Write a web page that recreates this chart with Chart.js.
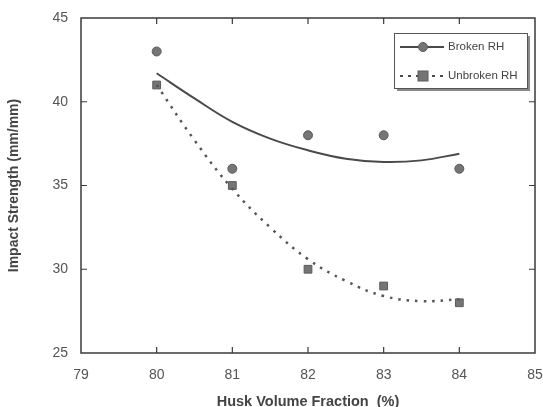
<!DOCTYPE html>
<html>
<head>
<meta charset="utf-8">
<script src="https://cdn.jsdelivr.net/npm/chart.js@4"></script>
<style>
  html, body { margin: 0; padding: 0; background: #fff; }
  #wrap { width: 543px; height: 407px; }
</style>
</head>
<body>
<div id="wrap"><canvas id="myChart" width="543" height="407"></canvas></div>
<script>
// measured points
const husk = [80, 81, 82, 83, 84];
const broken = [43, 36, 38, 38, 36];
const unbroken = [41, 35, 30, 29, 28];

// trend curves every half step
const fitX = [80, 80.5, 81, 81.5, 82, 82.5, 83, 83.5, 84];
const brokenFit = [41.7, 40.2, 38.8, 37.8, 37.1, 36.6, 36.4, 36.5, 36.9];
const unbrokenFit = [41, 37.7, 34.8, 32.5, 30.6, 29.3, 28.4, 28.1, 28.2];

const xTicks = [79, 80, 81, 82, 83, 84, 85];
const yTicks = [25, 30, 35, 40, 45];

const ink = "#3a3a3a";
const markFill = "#757575";
const markEdge = "#5a5a5a";
const font = "'Liberation Sans', Arial, sans-serif";

const toPoints = (xs, ys) => xs.map((x, i) => ({ x: x, y: ys[i] }));

// frame with inward ticks on all four sides
const framePlugin = {
  id: "frame",
  afterDraw(chart) {
    const { ctx, chartArea: a, scales } = chart;
    ctx.save();
    ctx.strokeStyle = ink;
    ctx.lineWidth = 1.5;
    ctx.strokeRect(a.left, a.top, a.right - a.left, a.bottom - a.top);
    ctx.lineWidth = 1.2;
    const len = 6;
    xTicks.slice(1, -1).forEach((v) => {
      const px = scales.x.getPixelForValue(v);
      ctx.beginPath();
      ctx.moveTo(px, a.bottom);
      ctx.lineTo(px, a.bottom - len);
      ctx.moveTo(px, a.top);
      ctx.lineTo(px, a.top + len);
      ctx.stroke();
    });
    yTicks.slice(1, -1).forEach((v) => {
      const py = scales.y.getPixelForValue(v);
      ctx.beginPath();
      ctx.moveTo(a.left, py);
      ctx.lineTo(a.left + len, py);
      ctx.moveTo(a.right, py);
      ctx.lineTo(a.right - len, py);
      ctx.stroke();
    });
    ctx.restore();
  },
};

// boxed legend with a drop shadow, line + marker samples
const legendPlugin = {
  id: "boxLegend",
  afterDraw(chart) {
    const { ctx, chartArea: a } = chart;
    const w = 133, h = 55;
    const bx = a.right - 8 - w, by = a.top + 15;
    ctx.save();
    ctx.fillStyle = "#8a8a8a";
    ctx.fillRect(bx + 3, by + 3, w, h);
    ctx.fillStyle = "#fff";
    ctx.fillRect(bx, by, w, h);
    ctx.strokeStyle = "#555";
    ctx.lineWidth = 1;
    ctx.strokeRect(bx + 0.5, by + 0.5, w, h);

    const rows = [
      { label: "Broken RH", y: by + 14, dash: [], shape: "circle" },
      { label: "Unbroken RH", y: by + 43, dash: [3, 5], shape: "square" },
    ];
    rows.forEach((r) => {
      ctx.strokeStyle = "#4a4a4a";
      ctx.lineWidth = 2;
      ctx.setLineDash(r.dash);
      ctx.beginPath();
      ctx.moveTo(bx + 6, r.y);
      ctx.lineTo(bx + 50, r.y);
      ctx.stroke();
      ctx.setLineDash([]);
      ctx.fillStyle = markFill;
      ctx.strokeStyle = markEdge;
      ctx.lineWidth = 1;
      if (r.shape === "circle") {
        ctx.beginPath();
        ctx.arc(bx + 29, r.y, 4.5, 0, Math.PI * 2);
        ctx.fill();
        ctx.stroke();
      } else {
        ctx.fillRect(bx + 24, r.y - 5, 10, 10);
        ctx.strokeRect(bx + 24, r.y - 5, 10, 10);
      }
      ctx.fillStyle = "#444";
      ctx.font = "11.5px " + font;
      ctx.textBaseline = "middle";
      ctx.fillText(r.label, bx + 54, r.y);
    });
    ctx.restore();
  },
};

function generateGraph() {
  const ctx = document.getElementById("myChart").getContext("2d");
  new Chart(ctx, {
    type: "scatter",
    data: {
      datasets: [
        {
          label: "Broken RH fit",
          data: toPoints(fitX, brokenFit),
          showLine: true,
          borderColor: "#4a4a4a",
          borderWidth: 2,
          pointRadius: 0,
          tension: 0.4,
        },
        {
          label: "Unbroken RH fit",
          data: toPoints(fitX, unbrokenFit),
          showLine: true,
          borderColor: "#555",
          borderWidth: 2.5,
          borderDash: [2.5, 6],
          pointRadius: 0,
          tension: 0.4,
        },
        {
          label: "Broken RH",
          data: toPoints(husk, broken),
          pointStyle: "circle",
          pointRadius: 4.5,
          backgroundColor: markFill,
          borderColor: markEdge,
          borderWidth: 1,
        },
        {
          label: "Unbroken RH",
          data: toPoints(husk, unbroken),
          pointStyle: "rect",
          pointRadius: 5.5,
          backgroundColor: markFill,
          borderColor: markEdge,
          borderWidth: 1,
        },
      ],
    },
    options: {
      responsive: false,
      animation: false,
      layout: { padding: { top: 18, right: 8, left: 0, bottom: 0 } },
      plugins: { legend: { display: false }, tooltip: { enabled: false } },
      scales: {
        x: {
          type: "linear",
          min: 79,
          max: 85,
          afterBuildTicks: (s) => { s.ticks = xTicks.map((v) => ({ value: v })); },
          afterFit: (s) => { s.height = 54; s.paddingLeft = 0; s.paddingRight = 0; },
          grid: { display: false },
          border: { display: false },
          ticks: { color: "#555", font: { family: font, size: 14 }, padding: 6 },
          title: {
            display: true,
            text: "Husk Volume Fraction  (%)",
            color: "#444",
            font: { family: font, size: 14.5, weight: "bold" },
            padding: { top: 4, bottom: -4 },
          },
        },
        y: {
          min: 25,
          max: 45,
          afterBuildTicks: (s) => { s.ticks = yTicks.map((v) => ({ value: v })); },
          afterFit: (s) => { s.width = 81; },
          grid: { display: false },
          border: { display: false },
          ticks: { color: "#555", font: { family: font, size: 14 }, padding: 5 },
          title: {
            display: true,
            text: "Impact Strength (mm/mm)",
            color: "#444",
            font: { family: font, size: 14, weight: "bold" },
            padding: { top: 6, bottom: 4 },
          },
        },
      },
    },
    plugins: [framePlugin, legendPlugin],
  });
}

generateGraph();
</script>
</body>
</html>
